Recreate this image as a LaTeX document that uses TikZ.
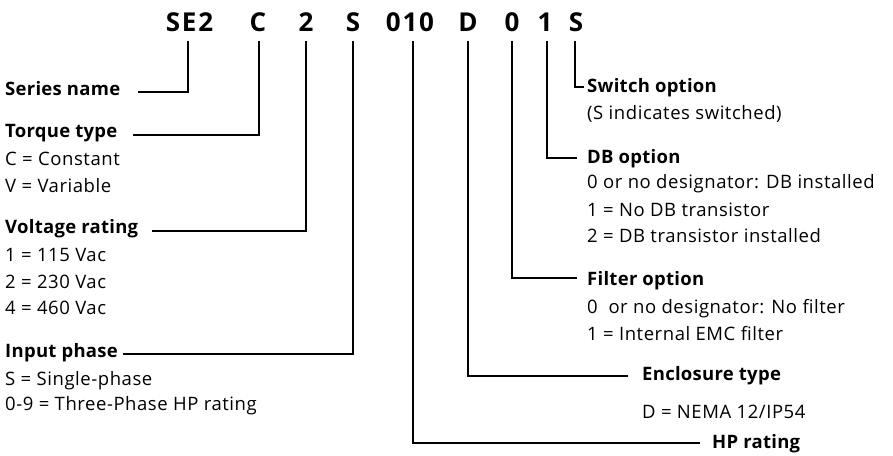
\documentclass[tikz,border=0pt]{standalone}
\usepackage{fontspec}
\setmainfont{Open Sans}
\begin{document}
\begin{tikzpicture}[x=1pt,y=-1pt,
  code/.style={font=\fontsize{26}{28}\selectfont\bfseries\addfontfeature{LetterSpace=7}, inner sep=0pt, anchor=base},
  head/.style={font=\fontsize{18.5}{20}\selectfont\bfseries\addfontfeature{LetterSpace=1.5}, inner sep=0pt, anchor=base west},
  body/.style={font=\fontsize{18.5}{20}\selectfont\addfontfeature{LetterSpace=3}, inner sep=0pt, anchor=base west},
  conn/.style={line width=1.5pt, line cap=butt}]
\useasboundingbox (0,0) rectangle (893,455);
% code letters
\node[code] (cSE2) at (189.5,31) {SE2};
\node[code] (cC) at (258,31) {C};
\node[code] (c2) at (306,31) {2};
\node[code] (cS) at (353,31) {S};
\node[code] (c010) at (410,31) {010};
\node[code] (cD) at (468,31) {D};
\node[code] (c0) at (512,31) {0};
\node[code] (c1) at (545,31) {1};
\node[code] (cS2) at (576,31) {S};
% left texts
\node[head] (series) at (5,95) {Series name};
\node[head] (torque) at (5,137) {Torque type};
\node[body] (torque1) at (5,165) {C = Constant};
\node[body] (torque2) at (5,192) {V = Variable};
\node[head] (volt) at (5,233) {Voltage rating};
\node[body] (volt1) at (5,261) {1 = 115 Vac};
\node[body] (volt2) at (5,288) {2 = 230 Vac};
\node[body] (volt3) at (5,314) {4 = 460 Vac};
\node[head] (input) at (5,357) {Input phase};
\node[body] (input1) at (5,385) {S = Single-phase};
\node[body] (input2) at (5,410) {0-9 = Three-Phase HP rating};
% right texts
\node[head] (switch) at (587,92) {Switch option};
\node[body] (switch1) at (587,119) {(S indicates switched)};
\node[head] (db) at (587,163) {DB option};
\node[body] (db1) at (587,188) {0 or no designator: DB installed};
\node[body] (db2) at (587,216) {1 = No DB transistor};
\node[body] (db3) at (587,242) {2 = DB transistor installed};
\node[head] (filter) at (587,285) {Filter option};
\node[body] (filter1) at (587,313) {0\ \ or no designator: No filter};
\node[body] (filter2) at (587,340) {1 = Internal EMC filter};
\node[head] (encl) at (642,380) {Enclosure type};
\node[body] (encl1) at (642,418) {D = NEMA 12/IP54};
\node[head] (hp) at (712,448) {HP rating};
% connector end points
\coordinate (tSE2) at (188,41);  \coordinate (eSE2) at (138,92);
\coordinate (tC) at (259,41);    \coordinate (eC) at (133,135);
\coordinate (t2) at (306,41);    \coordinate (e2) at (152,231);
\coordinate (tS) at (353,41);    \coordinate (eS) at (123,354);
\coordinate (t010) at (413,41);  \coordinate (e010) at (700,443);
\coordinate (tD) at (468,41);    \coordinate (eD) at (628,376);
\coordinate (t0) at (512,41);    \coordinate (e0) at (577,278);
\coordinate (t1) at (547,41);    \coordinate (e1) at (577,158);
\coordinate (tS2) at (575,41);   \coordinate (eS2) at (584,87);
% connectors
\draw[conn] (tSE2) |- (eSE2);
\draw[conn] (tC) |- (eC);
\draw[conn] (t2) |- (e2);
\draw[conn] (tS) |- (eS);
\draw[conn] (t010) |- (e010);
\draw[conn] (tD) |- (eD);
\draw[conn] (t0) |- (e0);
\draw[conn] (t1) |- (e1);
\draw[conn] (tS2) |- (eS2);
\end{tikzpicture}
\end{document}
